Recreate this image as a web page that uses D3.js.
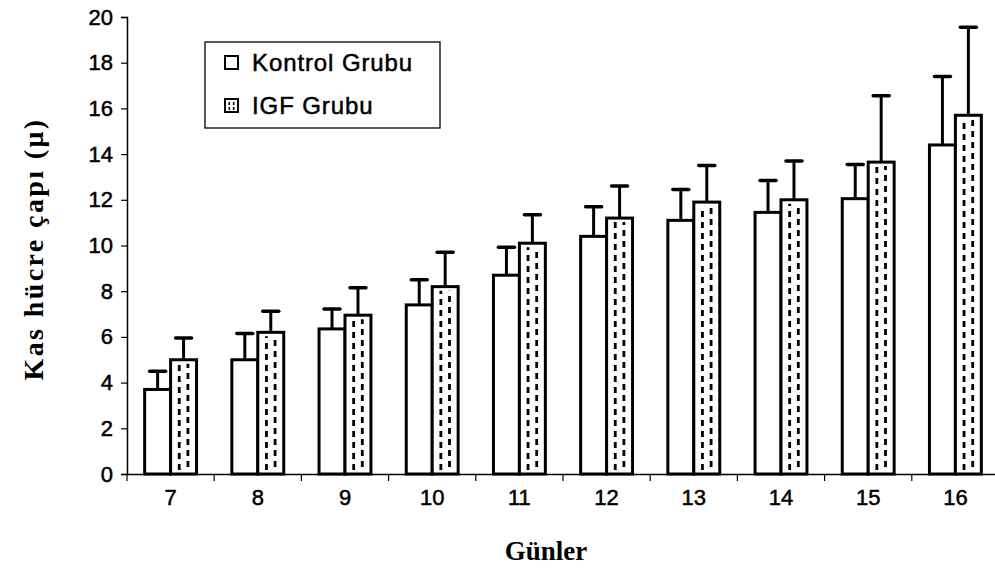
<!DOCTYPE html>
<html>
<head>
<meta charset="utf-8">
<script src="https://cdn.jsdelivr.net/npm/d3@7"></script>
<style>
  html, body { margin: 0; padding: 0; background: #fff; }
  svg { display: block; }
</style>
</head>
<body>
<script>
const days = ['7', '8', '9', '10', '11', '12', '13', '14', '15', '16'];
const series = ['Kontrol Grubu', 'IGF Grubu'];
const kontrol = [3.7, 5.0, 6.35, 7.4, 8.7, 10.4, 11.1, 11.45, 12.05, 14.4];
const kontrolErr = [0.8, 1.15, 0.87, 1.1, 1.22, 1.3, 1.35, 1.4, 1.5, 3.0];
const igf = [5.0, 6.2, 6.95, 8.2, 10.1, 11.2, 11.9, 12.0, 13.65, 15.7];
const igfErr = [0.95, 0.92, 1.2, 1.5, 1.25, 1.4, 1.6, 1.7, 2.9, 3.85];
const yTicks = [0, 2, 4, 6, 8, 10, 12, 14, 16, 18, 20];

const W = 995, H = 572;
const sans = '"Liberation Sans", Arial, sans-serif';
const serif = '"Liberation Serif", "Times New Roman", serif';

const svg = d3.select('body').append('svg')
  .attr('width', W)
  .attr('height', H);

const x0 = d3.scaleBand().domain(days).range([127, 999]);
const x1 = d3.scaleBand().domain(series).range([0, x0.bandwidth()]).paddingOuter(0.68);
const y = d3.scaleLinear().domain([0, 20]).range([474, 17]);

const rows = days.map((d, i) => ({
  day: d,
  bars: [
    { s: series[0], v: kontrol[i], e: kontrolErr[i] },
    { s: series[1], v: igf[i], e: igfErr[i] }
  ]
}));

// error bars first so the bar outline covers the stem base
const groups = svg.selectAll('g.day')
  .data(rows)
  .join('g')
  .attr('class', 'day')
  .attr('transform', d => `translate(${x0(d.day)},0)`);

const bars = groups.selectAll('g.bar')
  .data(d => d.bars)
  .join('g')
  .attr('class', 'bar');

const cap = 8;
bars.append('line')
  .attr('x1', d => x1(d.s) + x1.bandwidth() / 2)
  .attr('x2', d => x1(d.s) + x1.bandwidth() / 2)
  .attr('y1', d => y(d.v))
  .attr('y2', d => y(d.v + d.e))
  .attr('stroke', '#000')
  .attr('stroke-width', 3);
bars.append('line')
  .attr('x1', d => x1(d.s) + x1.bandwidth() / 2 - cap)
  .attr('x2', d => x1(d.s) + x1.bandwidth() / 2 + cap)
  .attr('y1', d => y(d.v + d.e))
  .attr('y2', d => y(d.v + d.e))
  .attr('stroke', '#000')
  .attr('stroke-width', 3.5)
  .attr('stroke-linecap', 'round');

bars.append('rect')
  .attr('x', d => x1(d.s))
  .attr('y', d => y(d.v))
  .attr('width', x1.bandwidth())
  .attr('height', d => y(0) - y(d.v))
  .attr('fill', '#fff')
  .attr('stroke', '#000')
  .attr('stroke-width', 3);

// dashed fill of the IGF bars
const igfBars = bars.filter(d => d.s === series[1]);
[1 / 3, 2 / 3].forEach((f, k) => {
  igfBars.append('line')
    .attr('x1', d => x1(d.s) + x1.bandwidth() * f)
    .attr('x2', d => x1(d.s) + x1.bandwidth() * f)
    .attr('y1', y(0) - 4 - k * 3)
    .attr('y2', d => y(d.v) + 4)
    .attr('stroke', '#000')
    .attr('stroke-width', 2.8)
    .attr('stroke-dasharray', '6,5');
});

// y axis
const yAxis = svg.append('g')
  .attr('transform', 'translate(127,0)')
  .call(d3.axisLeft(y).tickValues(yTicks).tickSize(6).tickPadding(8));
yAxis.select('.domain').attr('stroke-width', 1.5);
yAxis.selectAll('.tick line').attr('stroke-width', 1.2);
yAxis.selectAll('text')
  .attr('font-family', sans)
  .attr('font-size', 22)
  .attr('fill', '#000')
  .attr('stroke', '#000')
  .attr('stroke-width', 0.5);

// x axis: labels at band centres, ticks at band edges
const xAxis = svg.append('g')
  .attr('transform', `translate(0,${y(0)})`)
  .call(d3.axisBottom(x0).tickSize(0).tickPadding(15));
xAxis.select('.domain').attr('stroke-width', 1.5);
xAxis.selectAll('text')
  .attr('font-family', sans)
  .attr('font-size', 22)
  .attr('fill', '#000')
  .attr('stroke', '#000')
  .attr('stroke-width', 0.5);
xAxis.selectAll('line.edge')
  .data(days.map(d => x0(d)).concat([x0.range()[1]]))
  .join('line')
  .attr('class', 'edge')
  .attr('x1', d => d)
  .attr('x2', d => d)
  .attr('y1', 0)
  .attr('y2', 7)
  .attr('stroke', '#000')
  .attr('stroke-width', 1.2);

// axis titles
svg.append('text')
  .attr('x', 546)
  .attr('y', 560)
  .attr('text-anchor', 'middle')
  .attr('font-family', serif)
  .attr('font-weight', 'bold')
  .attr('font-size', 27)
  .text('Günler');

svg.append('text')
  .attr('transform', 'translate(43,249) rotate(-90)')
  .attr('text-anchor', 'middle')
  .attr('font-family', serif)
  .attr('font-weight', 'bold')
  .attr('font-size', 28)
  .attr('letter-spacing', 2.4)
  .text('Kas hücre çapı (μ)');

// legend
const legend = svg.append('g');
legend.append('rect')
  .attr('x', 205).attr('y', 42)
  .attr('width', 235).attr('height', 86)
  .attr('fill', '#fff')
  .attr('stroke', '#000')
  .attr('stroke-width', 1.3);

const items = legend.selectAll('g.item')
  .data(series)
  .join('g')
  .attr('class', 'item')
  .attr('transform', (d, i) => `translate(225,${56 + i * 43})`);

items.append('rect')
  .attr('width', 13).attr('height', 13)
  .attr('fill', '#fff')
  .attr('stroke', '#000')
  .attr('stroke-width', 2);
items.filter(d => d === series[1]).selectAll('line')
  .data([4.3, 8.7])
  .join('line')
  .attr('x1', d => d).attr('x2', d => d)
  .attr('y1', 3).attr('y2', 11)
  .attr('stroke', '#000')
  .attr('stroke-width', 1.6)
  .attr('stroke-dasharray', '3,2');

items.append('text')
  .attr('x', 27)
  .attr('y', 15)
  .attr('font-family', sans)
  .attr('font-size', 24)
  .attr('letter-spacing', 0.9)
  .attr('stroke', '#000')
  .attr('stroke-width', 0.5)
  .text(d => d);
</script>
</body>
</html>
